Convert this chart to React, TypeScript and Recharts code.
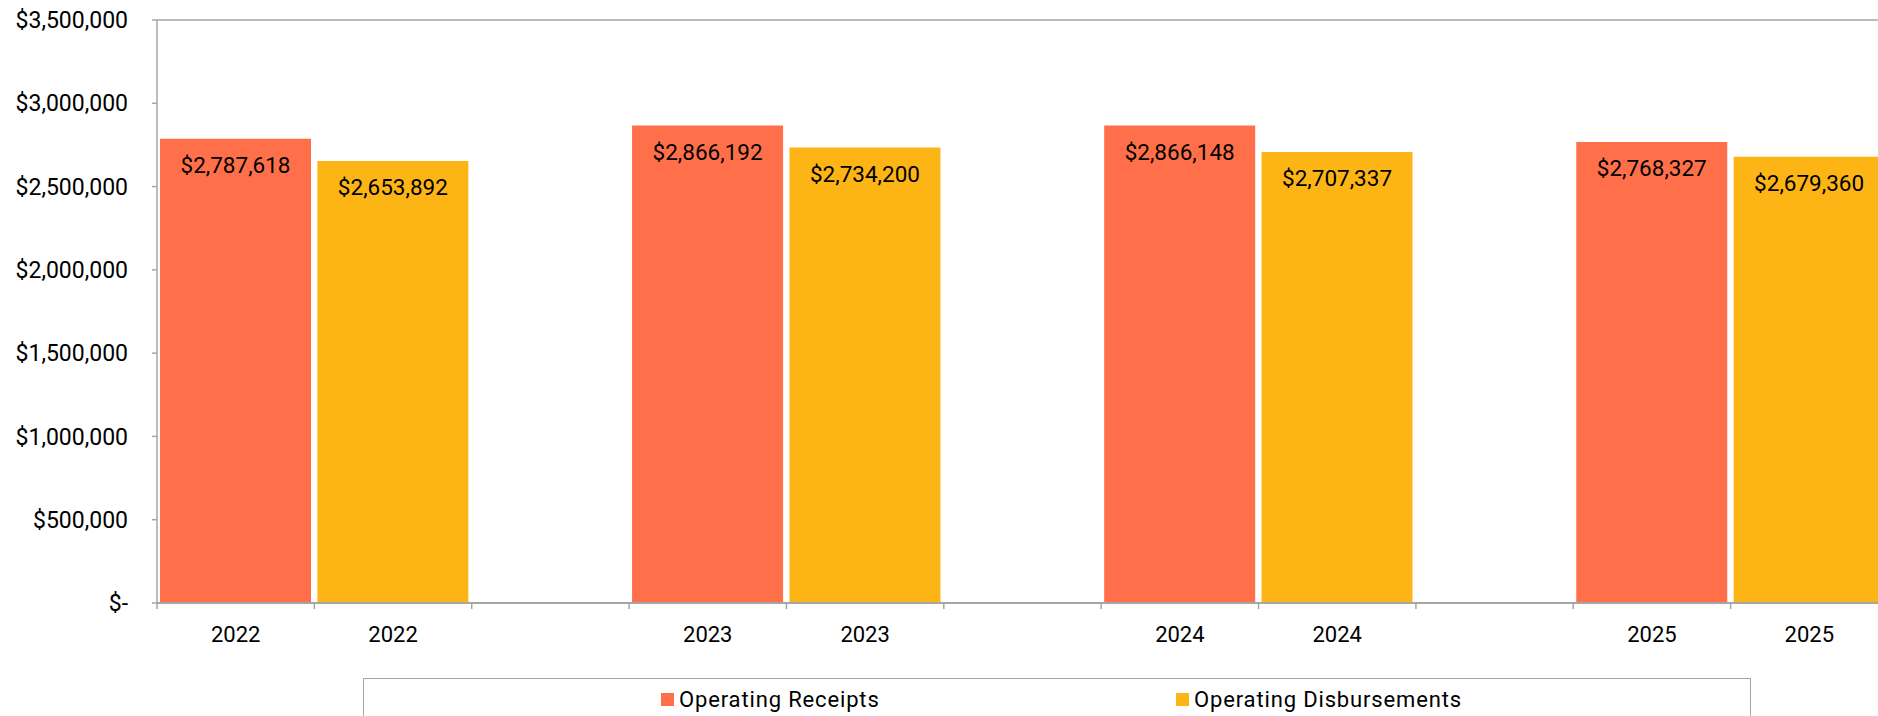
import React from 'react';
import { BarChart, Bar, XAxis, YAxis, ReferenceLine, LabelList } from 'recharts';

const YEARS = ['2022', '2023', '2024', '2025'];
const RECEIPTS = [2787618, 2866192, 2866148, 2768327];
const DISBURSEMENTS = [2653892, 2734200, 2707337, 2679360];
const Y_TICKS = [0, 500000, 1000000, 1500000, 2000000, 2500000, 3000000, 3500000];

const SERIES = [
  { key: 'receipts', name: 'Operating Receipts', color: '#FF704A' },
  { key: 'disbursements', name: 'Operating Disbursements', color: '#FDB515' },
];

const AXIS = '#A6A6A6';
const FONT = 'Roboto, "Noto Sans", sans-serif';

const CHART_W = 1888;
const CHART_H = 716;
const Y_AXIS_W = 157;

// each year gets a receipts slot, a disbursements slot and an empty spacer slot
const rows: any[] = [];
YEARS.forEach((year, i) => {
  rows.push({ label: year, receipts: RECEIPTS[i] });
  rows.push({ label: year, disbursements: DISBURSEMENTS[i] });
  if (i < YEARS.length - 1) rows.push({ label: '' });
});

const money = (v: number) => '$' + v.toLocaleString('en-US');
const yFormat = (v: number) => (v === 0 ? '$-' : money(v));
const labelFormat = (v: any) => (v ? money(v) : '');

const XTick = (props: any) => {
  const { x, y, payload } = props;
  const half = payload && payload.offset ? payload.offset : (CHART_W - Y_AXIS_W) / rows.length / 2;
  return (
    <g>
      <line x1={x - half} x2={x - half} y1={y} y2={y + 6} stroke={AXIS} strokeWidth={1.5} />
      <text x={x} y={y + 39} textAnchor="middle" fontSize={22} fill="#000" fontFamily={FONT}>
        {payload.value}
      </text>
    </g>
  );
};

const Legend = () => (
  <div
    style={{
      position: 'absolute',
      left: 363,
      top: 678,
      width: 1388,
      height: 60,
      borderTop: `1.5px solid ${AXIS}`,
      borderLeft: `1.5px solid ${AXIS}`,
      borderRight: `1.5px solid ${AXIS}`,
      boxSizing: 'border-box',
      fontFamily: FONT,
      fontSize: 22,
      letterSpacing: 0.85,
      color: '#000',
    }}
  >
    {SERIES.map((s, i) => (
      <div
        key={s.key}
        style={{
          position: 'absolute',
          left: i === 0 ? 297 : 812,
          top: 8,
          display: 'flex',
          alignItems: 'center',
          whiteSpace: 'nowrap',
        }}
      >
        <span style={{ display: 'inline-block', width: 13, height: 13, background: s.color, marginRight: 5 }} />
        <span>{s.name}</span>
      </div>
    ))}
  </div>
);

export default function App() {
  return (
    <div
      style={{
        position: 'fixed',
        left: 0,
        top: 0,
        width: 1878,
        height: 716,
        overflow: 'hidden',
        background: '#fff',
        fontFamily: FONT,
      }}
    >
      <BarChart
        width={CHART_W}
        height={CHART_H}
        data={rows}
        margin={{ top: 20, right: 0, left: 0, bottom: 53 }}
        barCategoryGap={3}
      >
        <XAxis
          dataKey="label"
          height={60}
          interval={0}
          tickSize={0}
          tickMargin={0}
          tickLine={false}
          axisLine={{ stroke: AXIS, strokeWidth: 2 }}
          tick={<XTick />}
        />
        <YAxis
          width={Y_AXIS_W}
          domain={[0, 3500000]}
          ticks={Y_TICKS}
          interval={0}
          tickFormatter={yFormat}
          tickSize={5}
          tickMargin={24}
          axisLine={{ stroke: AXIS, strokeWidth: 1.5 }}
          tickLine={{ stroke: AXIS, strokeWidth: 1.5 }}
          tick={{ fontSize: 23, fill: '#000', fontFamily: FONT }}
        />
        <ReferenceLine y={3500000} stroke={AXIS} strokeWidth={1.5} />
        {SERIES.map((s) => (
          <Bar key={s.key} dataKey={s.key} name={s.name} stackId="a" fill={s.color} isAnimationActive={false}>
            <LabelList
              dataKey={s.key}
              position="insideTop"
              offset={18}
              formatter={labelFormat}
              fill="#000"
              fontSize={22.5}
              fontFamily={FONT}
            />
          </Bar>
        ))}
      </BarChart>
      <Legend />
    </div>
  );
}
